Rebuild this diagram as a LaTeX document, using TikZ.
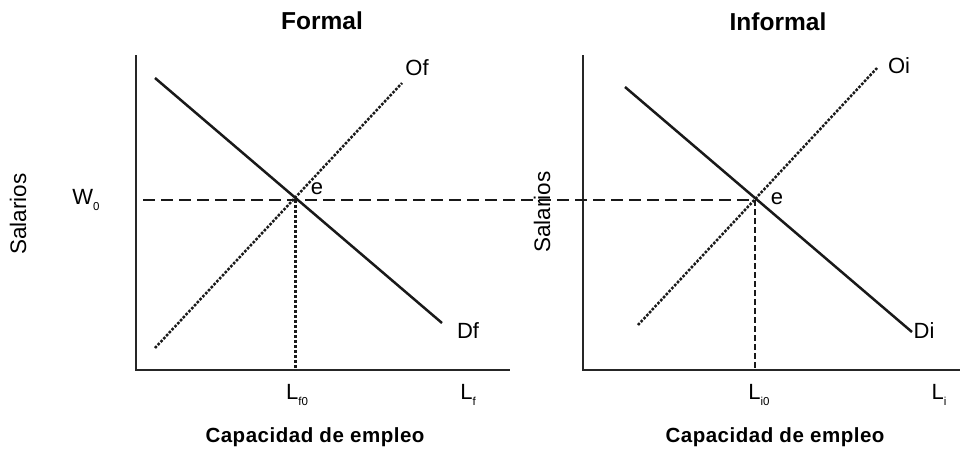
\documentclass[tikz,border=0pt]{standalone}
\usepackage{fontspec}
\setmainfont{Liberation Sans}
\begin{document}
\begin{tikzpicture}[x=1pt,y=-1pt,
  axis/.style={line width=2.6pt,draw=black!85},
  demand/.style={line width=2.5pt,draw=black!90},
  supply/.style={line width=2.5pt,draw=black!90,dash pattern=on 2.6pt off 1.5pt},
  wline/.style={line width=2.4pt,draw=black!90,dash pattern=on 12pt off 6pt},
  vdot/.style={line width=3pt,draw=black!90,dash pattern=on 3pt off 2pt},
  vdash/.style={line width=2pt,draw=black!90,dash pattern=on 6pt off 3pt},
  ttl/.style={font=\fontsize{24.5}{28}\selectfont\bfseries},
  lbl/.style={font=\fontsize{22}{25}\selectfont, inner sep=0pt},
  captext/.style={font=\fontsize{20.5}{23}\selectfont\bfseries\addfontfeatures{LetterSpace=2.5}, inner sep=0pt},
  sal/.style={font=\fontsize{22.5}{25}\selectfont, rotate=90, inner sep=0pt}]
\useasboundingbox (0,0) rectangle (966,451);
\newcommand{\subtx}[1]{\raisebox{-0.55ex}{\fontsize{11.5}{11.5}\selectfont #1}}
% titles
\node[ttl] (tf) at (322,21) {Formal};
\node[ttl] (ti) at (778,22) {Informal};
% left axes
\coordinate (lo) at (136,370);
\coordinate (ly) at (136,55);
\coordinate (lx) at (510,370);
\draw[axis] (ly) -- (lo) -- (lx);
% right axes
\coordinate (ro) at (583,370);
\coordinate (ry) at (583,55);
\coordinate (rx) at (960,370);
\draw[axis] (ry) -- (ro) -- (rx);
% left curves
\coordinate (dfa) at (155,78);
\coordinate (dfb) at (442,323);
\coordinate (ofa) at (155,348);
\coordinate (ofb) at (402,83);
\coordinate (ef) at (295,200);
\coordinate (efb) at (295,370);
\draw[demand] (dfa) -- (dfb);
\draw[supply] (ofa) -- (ofb);
% right curves
\coordinate (dia) at (625,87);
\coordinate (dib) at (912,332);
\coordinate (oia) at (638,325);
\coordinate (oib) at (877,68);
\coordinate (ei) at (755,200);
\coordinate (eib) at (755,370);
\draw[demand] (dia) -- (dib);
\draw[supply] (oia) -- (oib);
% wage line
\coordinate (ws) at (143,200);
\draw[wline] (ws) -- (ei);
\draw[vdot] (ef) -- (efb);
\draw[vdash] (ei) -- (eib);
% labels
\node[sal] (sl) at (18,214) {Salarios};
\node[sal] (sr) at (542,212) {Salarios};
\node[lbl] (w0) at (86,200) {W\subtx{0}};
\node[lbl] (ele) at (317,189) {e};
\node[lbl] (eli) at (777,199) {e};
\node[lbl] (of) at (417,68) {Of};
\node[lbl] (df) at (468,331) {Df};
\node[lbl] (oi) at (899,66) {Oi};
\node[lbl] (di) at (924,331) {Di};
\node[lbl] (lf0) at (297,395) {L\subtx{f0}};
\node[lbl] (lf) at (468,395) {L\subtx{f}};
\node[lbl] (li0) at (759,395) {L\subtx{i0}};
\node[lbl] (li) at (939,395) {L\subtx{i}};
\node[captext] (cl) at (315,437) {Capacidad de empleo};
\node[captext] (cr) at (775,437) {Capacidad de empleo};
\end{tikzpicture}
\end{document}
